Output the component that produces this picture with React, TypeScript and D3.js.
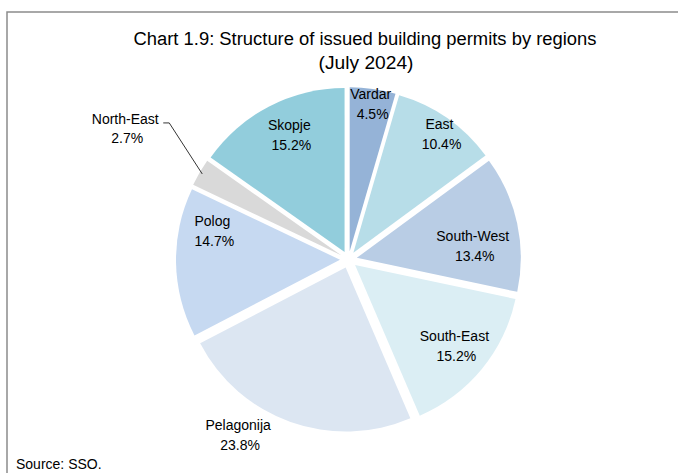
import React from "react";
import * as d3 from "d3";

// structure of issued building permits, July 2024 (%)
const regions = ["Vardar", "East", "South-West", "South-East", "Pelagonija", "Polog", "North-East", "Skopje"];
const shares = [4.5, 10.4, 13.4, 15.2, 23.8, 14.7, 2.7, 15.2];
const labels = ["4.5%", "10.4%", "13.4%", "15.2%", "23.8%", "14.7%", "2.7%", "15.2%"];
const colors = ["#95b3d7", "#b7dde8", "#b9cde5", "#dbeef4", "#dce6f2", "#c6d9f1", "#d9d9d9", "#92cddc"];

const titleLines = ["Chart 1.9: Structure of issued building permits by regions", "(July 2024)"];
const source = "Source: SSO.";

const W = 678;
const H = 473;

// label placement: radius (px from centre) and angle nudge (deg), Excel labels were hand-moved
const labelPlace: Record<string, [number, number]> = {
    "Vardar": [157, 0],
    "East": [155, 1],
    "South-West": [125, 5.8],
    "South-East": [137, 0],
    "Pelagonija": [207, 12.6],
    "Polog": [139, 12.7],
    "Skopje": [138, 2],
};

function App(): JSX.Element {
    const cx = 348.5;
    const cy = 259.6;
    const radius = 164;
    const explode = 8.5;
    const font = "'Liberation Sans', Arial, sans-serif";

    const data = regions.map((name, i) => ({name, value: shares[i], label: labels[i], color: colors[i]}));

    const pie = d3.pie<typeof data[number]>()
        .sort(null)
        .value(d => d.value)
        .startAngle(0)
        .endAngle(2 * Math.PI);

    const arc = d3.arc<d3.PieArcDatum<typeof data[number]>>()
        .innerRadius(0)
        .outerRadius(radius);

    const arcs = pie(data);

    const polar = (angle: number, r: number): [number, number] =>
        [Math.sin(angle) * r, -Math.cos(angle) * r];

    return (
        <svg width={W} height={H} style={{position: "absolute", left: 0, top: 0, background: "#fff"}}>
            <rect x={0} y={0} width={W} height={H} fill="#fff"/>
            <path d={`M7,${H} V12 H${W}`} fill="none" stroke="#8c8c8c" strokeWidth={1.5}/>

            <g fontFamily={font} fill="#000" textAnchor="middle" fontSize={18}>
                <text x={365} y={45} textLength={463} lengthAdjust="spacingAndGlyphs">{titleLines[0]}</text>
                <text x={366} y={69} textLength={95} lengthAdjust="spacingAndGlyphs">{titleLines[1]}</text>
            </g>

            <g transform={`translate(${cx},${cy})`}>
                {arcs.map(a => {
                    const mid = (a.startAngle + a.endAngle) / 2;
                    const [ox, oy] = polar(mid, explode);
                    return (
                        <path key={a.data.name} d={arc(a) || ""} fill={a.data.color}
                              transform={`translate(${ox},${oy})`}/>
                    );
                })}

                {arcs.map(a => {
                    const mid = (a.startAngle + a.endAngle) / 2;
                    if (a.data.name === "North-East") {
                        const [ex, ey] = polar(mid, radius + explode - 3);
                        const elbowX = ex - 33;
                        const elbowY = ey - 51;
                        return (
                            <g key={a.data.name}>
                                <path d={`M${ex},${ey} L${elbowX},${elbowY} H${elbowX - 6}`}
                                      fill="none" stroke="#000" strokeWidth={0.8}/>
                                <text x={elbowX - 44} y={elbowY + 1} fontFamily={font} fontSize={14}
                                      textAnchor="middle">{a.data.name}</text>
                                <text x={elbowX - 42} y={elbowY + 20} fontFamily={font} fontSize={14}
                                      textAnchor="middle">{a.data.label}</text>
                            </g>
                        );
                    }
                    const [r, nudge] = labelPlace[a.data.name];
                    const [lx, ly] = polar(mid + nudge * Math.PI / 180, r);
                    return (
                        <g key={a.data.name} fontFamily={font} fontSize={14} textAnchor="middle">
                            <text x={lx} y={ly - 5}>{a.data.name}</text>
                            <text x={lx + 2} y={ly + 15}>{a.data.label}</text>
                        </g>
                    );
                })}
            </g>

            <text x={16} y={469} fontFamily={font} fontSize={14}>{source}</text>
        </svg>
    );
}

export default App;
